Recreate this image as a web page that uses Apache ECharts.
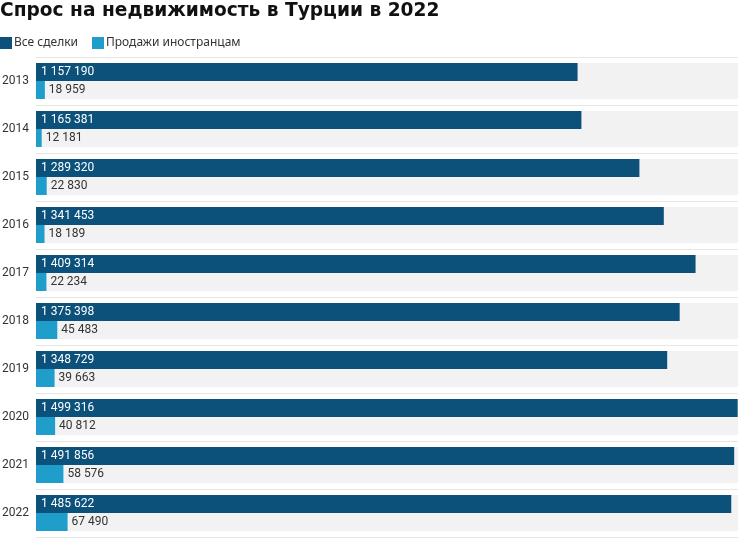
<!DOCTYPE html>
<html>
<head>
<meta charset="utf-8">
<script src="https://cdn.jsdelivr.net/npm/echarts@6/dist/echarts.min.js"></script>
<style>
  html, body { margin: 0; padding: 0; background: #fff; }
  #chart { width: 750px; height: 539px; }
</style>
</head>
<body>
<div id="chart"></div>
<script>
// данные
var years = ['2013', '2014', '2015', '2016', '2017', '2018', '2019', '2020', '2021', '2022'];
var allDeals = [1157190, 1165381, 1289320, 1341453, 1409314, 1375398, 1348729, 1499316, 1491856, 1485622];
var foreignSales = [18959, 12181, 22830, 18189, 22234, 45483, 39663, 40812, 58576, 67490];

function fmt(v) {
  return String(v).replace(/\B(?=(\d{3})+(?!\d))/g, ' ');
}

var myChart = echarts.init(document.getElementById('chart'));
var colors = ['#0b5179', '#1f9dcb'];

var option = {
  animation: false,
  color: colors,
  title: {
    text: 'Спрос на недвижимость в Турции в 2022',
    left: 0,
    top: 2,
    padding: 0,
    textStyle: {
      fontFamily: 'DejaVu Sans',
      fontWeight: 'bold',
      fontSize: 18.6,
      color: '#111'
    }
  },
  legend: {
    left: 0,
    top: 37,
    padding: 0,
    itemWidth: 12,
    itemHeight: 12,
    itemGap: 14,
    icon: 'rect',
    textStyle: { fontFamily: 'Noto Sans', fontSize: 12, color: '#333', padding: [0, 0, 0, -3] },
    data: ['Все сделки', 'Продажи иностранцам']
  },
  grid: {
    left: 36,
    right: 12,
    top: 57,
    bottom: 2,
    outerBoundsMode: 'none'
  },
  xAxis: {
    type: 'value',
    min: 0,
    max: 1500000,
    show: false
  },
  yAxis: {
    type: 'category',
    data: years,
    inverse: true,
    axisLine: { show: false },
    axisTick: { show: false },
    splitLine: {
      show: true,
      lineStyle: { color: '#e6e6e6', width: 1 }
    },
    axisLabel: {
      align: 'left',
      margin: 34,
      fontFamily: 'Roboto',
      fontSize: 12,
      color: '#333'
    }
  },
  series: [{
    name: 'Все сделки',
    type: 'bar',
    data: allDeals,
    barWidth: 18,
    barGap: '0%',
    showBackground: true,
    backgroundStyle: { color: '#f2f2f2' },
    label: {
      show: true,
      position: 'insideLeft',
      distance: 5,
      color: '#fff',
      fontFamily: 'Roboto',
      fontSize: 12,
      formatter: function (p) { return fmt(p.value); }
    }
  }, {
    name: 'Продажи иностранцам',
    type: 'bar',
    data: foreignSales,
    barWidth: 18,
    showBackground: true,
    backgroundStyle: { color: '#f2f2f2' },
    label: {
      show: true,
      position: 'right',
      distance: 4,
      color: '#333',
      fontFamily: 'Roboto',
      fontSize: 12,
      formatter: function (p) { return fmt(p.value); }
    }
  }]
};

myChart.setOption(option);
</script>
</body>
</html>
